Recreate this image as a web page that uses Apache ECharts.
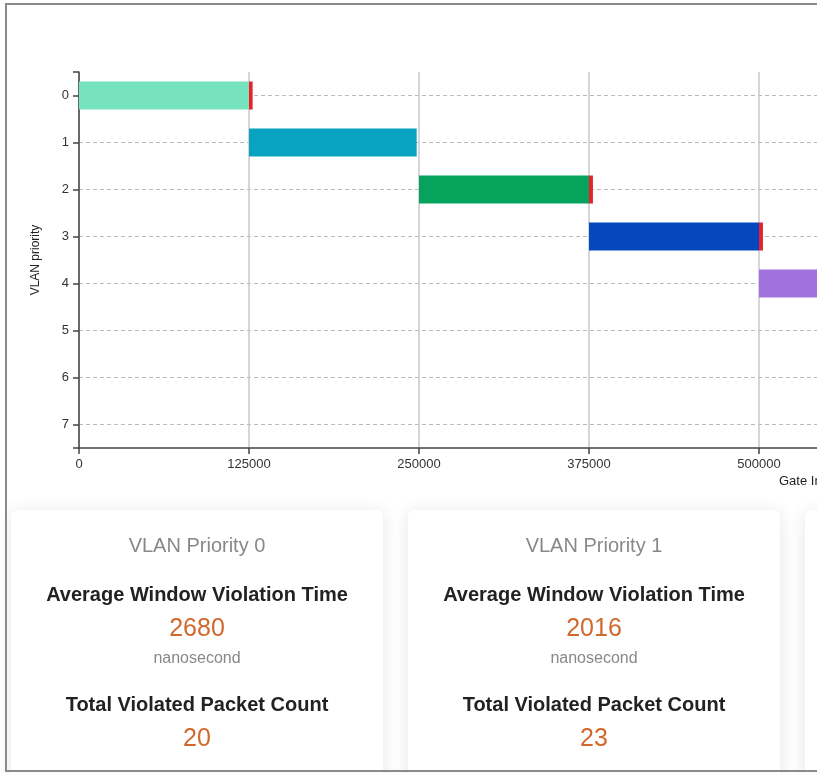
<!DOCTYPE html>
<html>
<head>
<meta charset="utf-8">
<script src="https://cdn.jsdelivr.net/npm/echarts@6/dist/echarts.min.js"></script>
<style>
    html, body {
        margin: 0;
        padding: 0;
        width: 817px;
        height: 773px;
        overflow: hidden;
        background: #fff;
        font-family: "Liberation Sans", Arial, sans-serif;
    }
    #chart {
        position: absolute;
        left: 0;
        top: 0;
        width: 1150px;
        height: 505px;
    }
    #frame {
        position: absolute;
        left: 5px;
        top: 3px;
        width: 2000px;
        height: 765px;
        border: 2px solid #8a8a8a;
        z-index: 10;
        pointer-events: none;
    }
    .card {
        position: absolute;
        top: 510px;
        width: 372px;
        height: 300px;
        background: #fff;
        border-radius: 6px;
        box-shadow: 0 2px 18px rgba(0, 0, 0, 0.10);
    }
    .card div {
        position: absolute;
        left: 0;
        width: 100%;
        text-align: center;
        line-height: 30px;
    }
    .title { color: #888; font-size: 20px; }
    .label { color: #222; font-size: 20px; font-weight: bold; }
    .value { color: #d2682c; font-size: 25px; }
    .unit { color: #888; font-size: 16px; }
</style>
</head>
<body>
<div id="chart"></div>
<div id="cards"></div>
<div id="frame"></div>

<script>
    // chart data
    const priorities = ['0', '1', '2', '3', '4', '5', '6', '7'];
    const windowStart = [0, 125000, 250000, 375000, 500000, '-', '-', '-'];
    const windowEnd = [125000, 248300, 375000, 500000, 625000, '-', '-', '-'];
    const violation = [2680, 0, 2900, 2900, 0, '-', '-', '-'];
    const windowColors = ['#76e3be', '#08a3c0', '#05a35c', '#0548be', '#a073dc', '#999', '#999', '#999'];
    const xMin = 0;
    const xMax = 750000;
    const xInterval = 125000;

    // card data
    const cardPriorities = [0, 1, 2];
    const avgViolationTime = [2680, 2016, 0];
    const violatedPacketCount = [20, 23, 0];

    function buildCards() {
        let html = '';
        for (let i = 0; i < cardPriorities.length; i++) {
            let left = 11 + i * 397;
            html += '<div class="card" style="left:' + left + 'px">' +
                '<div class="title" style="top:20px">VLAN Priority ' + cardPriorities[i] + '</div>' +
                '<div class="label" style="top:69px">Average Window Violation Time</div>' +
                '<div class="value" style="top:102px">' + avgViolationTime[i] + '</div>' +
                '<div class="unit" style="top:133px">nanosecond</div>' +
                '<div class="label" style="top:179px">Total Violated Packet Count</div>' +
                '<div class="value" style="top:212px">' + violatedPacketCount[i] + '</div>' +
                '</div>';
        }
        document.getElementById('cards').innerHTML = html;
    }

    function drawChart() {
        let chart = echarts.init(document.getElementById('chart'));

        let base = [];
        let duration = [];
        let red = [];
        for (let i = 0; i < priorities.length; i++) {
            if (windowStart[i] === '-') {
                base.push('-');
                duration.push('-');
                red.push('-');
                continue;
            }
            base.push(windowStart[i]);
            duration.push({
                value: windowEnd[i] - windowStart[i],
                itemStyle: { color: windowColors[i] }
            });
            red.push(violation[i]);
        }

        const axisColor = '#444';
        const labelStyle = { color: '#333', fontSize: 13, fontFamily: 'Liberation Sans' };

        chart.setOption({
            animation: false,
            grid: {
                left: 79,
                top: 72,
                width: 1020,
                height: 376
            },
            xAxis: {
                type: 'value',
                min: xMin,
                max: xMax,
                interval: xInterval,
                axisLine: { show: true, lineStyle: { color: axisColor, width: 1.5 } },
                axisTick: { show: true, length: 6, lineStyle: { color: axisColor, width: 1.5 } },
                axisLabel: Object.assign({ margin: 10, formatter: v => String(v) }, labelStyle),
                splitLine: { show: true, lineStyle: { color: '#c8c8c8', width: 1.5 } }
            },
            yAxis: [
                {
                    type: 'category',
                    data: priorities,
                    inverse: true,
                    position: 'left',
                    name: 'VLAN priority',
                    nameLocation: 'middle',
                    nameGap: 37,
                    nameTextStyle: { color: '#222', fontSize: 12, fontFamily: 'Liberation Sans' },
                    axisLine: { show: true, lineStyle: { color: axisColor, width: 1.5 } },
                    axisTick: { show: true, alignWithLabel: true, length: 6, lineStyle: { color: axisColor, width: 1.5 } },
                    axisLabel: Object.assign({ margin: 10 }, labelStyle),
                    splitLine: {
                        show: true,
                        alignWithLabel: true,
                        lineStyle: { color: '#bbb', type: [4, 3], width: 1 }
                    }
                },
                {
                    // outer ticks at both ends of the priority axis
                    type: 'value',
                    position: 'left',
                    min: 0,
                    max: 8,
                    interval: 8,
                    axisLine: { show: false },
                    axisTick: { show: true, length: 6, lineStyle: { color: axisColor, width: 1.5 } },
                    axisLabel: { show: false },
                    splitLine: { show: false }
                }
            ],
            graphic: [
                {
                    type: 'text',
                    left: 779,
                    top: 475,
                    style: {
                        text: 'Gate Interval (ns)',
                        fill: '#222',
                        font: '13px "Liberation Sans"'
                    }
                }
            ],
            series: [
                {
                    name: 'start',
                    type: 'bar',
                    stack: 'gate',
                    barWidth: 28,
                    silent: true,
                    itemStyle: { color: 'transparent' },
                    data: base
                },
                {
                    name: 'window',
                    type: 'bar',
                    stack: 'gate',
                    barWidth: 28,
                    data: duration
                },
                {
                    name: 'violation',
                    type: 'bar',
                    stack: 'gate',
                    barWidth: 28,
                    itemStyle: { color: '#e8212b' },
                    data: red
                }
            ]
        });
    }

    buildCards();
    drawChart();
</script>
</body>
</html>
